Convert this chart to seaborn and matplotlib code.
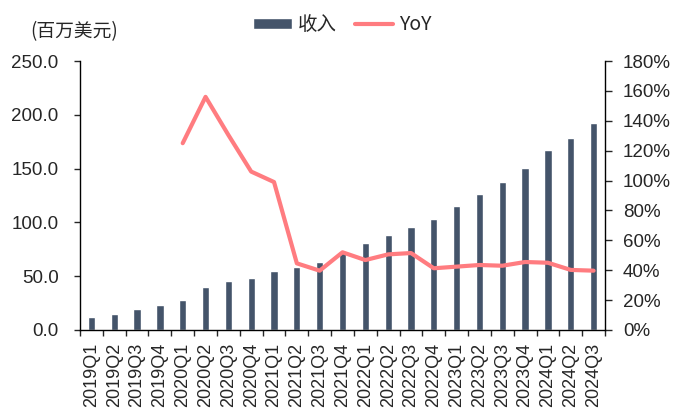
import matplotlib.pyplot as plt
import matplotlib.ticker as mtick
import seaborn as sns
import numpy as np
import pandas as pd

quarters = ['2019Q1', '2019Q2', '2019Q3', '2019Q4',
            '2020Q1', '2020Q2', '2020Q3', '2020Q4',
            '2021Q1', '2021Q2', '2021Q3', '2021Q4',
            '2022Q1', '2022Q2', '2022Q3', '2022Q4',
            '2023Q1', '2023Q2', '2023Q3', '2023Q4',
            '2024Q1', '2024Q2', '2024Q3']
revenue = [12.0, 15.0, 19.5, 23.0,
           28.0, 40.0, 45.5, 48.0,
           55.0, 59.0, 63.0, 72.8,
           80.9, 88.0, 95.7, 103.5,
           115.2, 126.4, 137.2, 150.6,
           167.3, 178.1, 192.4]
yoy = [np.nan, np.nan, np.nan, np.nan,
       125.0, 156.0, 130.5, 106.0,
       99.0, 44.6, 39.7, 52.0,
       46.8, 50.6, 51.5, 41.3,
       42.4, 43.5, 43.0, 45.5,
       45.0, 40.2, 39.7]

bar_color = '#44546A'
line_color = '#FF7C80'

sns.set_style('white')
plt.rcParams['font.family'] = ['Liberation Sans', 'Noto Sans CJK SC', 'DejaVu Sans']

df = pd.DataFrame({'quarter': quarters, 'revenue': revenue,
                   'yoy': yoy, 'pos': np.arange(len(quarters))})

fig = plt.figure(figsize=(6.73, 4.09), dpi=100)
ax = fig.add_axes([80 / 673, 1 - 330 / 409, 525 / 673, 269 / 409])

sns.barplot(data=df, x='quarter', y='revenue', color=bar_color,
            width=0.32, saturation=1, ax=ax, label='收入')
ax.set_xlim(-0.5, len(quarters) - 0.5)
ax.set_ylim(0, 250)
ax.yaxis.set_major_locator(mtick.MultipleLocator(50))
ax.yaxis.set_major_formatter(mtick.FormatStrFormatter('%.1f'))
ax.set_xlabel('')
ax.set_ylabel('')

ax2 = ax.twinx()
sns.lineplot(data=df.dropna(), x='pos', y='yoy', color=line_color,
             linewidth=3, ax=ax2, label='YoY', legend=False)
ax2.set_ylim(0, 180)
ax2.yaxis.set_major_locator(mtick.MultipleLocator(20))
ax2.yaxis.set_major_formatter(mtick.FuncFormatter(lambda v, p: f'{v:.0f}%'))
ax2.set_ylabel('')
ax2.set_xlabel('')
ax2.set_xlim(-0.5, len(quarters) - 0.5)

for a in (ax, ax2):
    for s in a.spines.values():
        s.set_visible(False)
ax.spines['left'].set_visible(True)
ax.spines['bottom'].set_visible(True)
ax2.spines['right'].set_visible(True)
for s in [ax.spines['left'], ax.spines['bottom'], ax2.spines['right']]:
    s.set_color('#000000')
    s.set_linewidth(1.0)

ax.set_xticks(np.arange(len(quarters)))
ax.set_xticklabels(quarters, rotation=90, fontsize=13)
ax.set_xticks(np.arange(len(quarters) + 1) - 0.5, minor=True)
ax.tick_params(axis='x', which='major', length=0, pad=9)
ax.tick_params(axis='x', which='minor', length=4, width=1, direction='out', bottom=True)
ax.tick_params(axis='y', length=4.5, width=1, direction='out', left=True, labelsize=13.5, pad=11)
ax2.tick_params(axis='y', length=5, width=1, direction='out', right=True, labelsize=13.5, pad=8)

fig.text(30 / 673, 1 - 32 / 409, '(百万美元)', va='center', ha='left',
         family=['Noto Sans CJK SC', 'DejaVu Sans'], fontsize=13.5)

h1, l1 = ax.get_legend_handles_labels()
h2, l2 = ax2.get_legend_handles_labels()
if ax.get_legend() is not None:
    ax.get_legend().remove()
leg = fig.legend(h1 + h2, l1 + l2, loc='center', bbox_to_anchor=(0.509, 1 - 25 / 409),
                 ncol=2, frameon=False, handlelength=2.0, handleheight=0.5,
                 columnspacing=0.9, handletextpad=0.3,
                 prop={'family': ['Noto Sans CJK SC', 'DejaVu Sans'], 'size': 14})

fig.savefig('out.png', dpi=100)
